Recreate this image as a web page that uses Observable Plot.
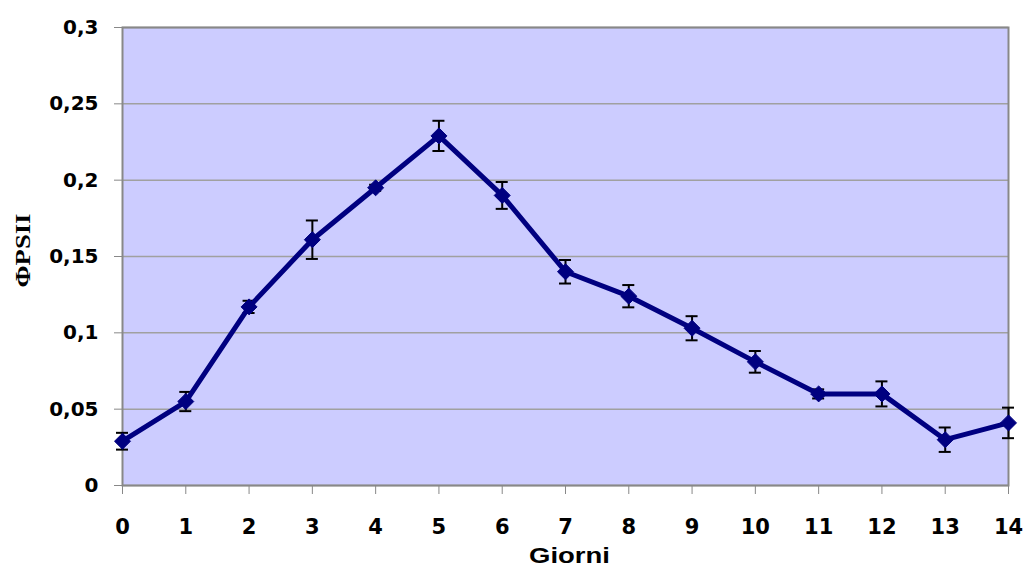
<!DOCTYPE html>
<html>
<head>
<meta charset="utf-8">
<script src="https://cdn.jsdelivr.net/npm/d3@7"></script>
<script src="https://cdn.jsdelivr.net/npm/@observablehq/plot@0.6"></script>
<style>
  html, body { margin: 0; padding: 0; background: #ffffff; }
  #chart svg { display: block; }
</style>
</head>
<body>
<div id="chart"></div>
<script>
// Data
const days = [0, 1, 2, 3, 4, 5, 6, 7, 8, 9, 10, 11, 12, 13, 14];
const phiPSII = [0.029, 0.055, 0.117, 0.161, 0.195, 0.229, 0.190, 0.140, 0.124, 0.103, 0.081, 0.060, 0.060, 0.030, 0.041];
const errors = [0.0055, 0.0063, 0.004, 0.0126, 0.002, 0.0099, 0.0088, 0.0077, 0.0073, 0.0079, 0.0071, 0.003, 0.0082, 0.008, 0.010];
const yTicks = [0, 0.05, 0.1, 0.15, 0.2, 0.25, 0.3];
const xTicks = days;
const xLabel = "Giorni";
const yLabel = "ΦPSII";

const data = days.map((d, i) => ({day: d, v: phiPSII[i], e: errors[i]}));
const capHalf = 0.095; // half-width of error-bar caps, in day units

const fmt = d => String(d).replace(".", ",");

const chart = Plot.plot({
  width: 1027,
  height: 566,
  marginLeft: 122,
  marginRight: 19,
  marginTop: 27,
  marginBottom: 81,
  style: {background: "#ffffff", overflow: "visible", fontFamily: "Liberation Sans"},
  x: {domain: [0, 14], ticks: xTicks, label: null},
  y: {domain: [0, 0.3], ticks: yTicks, label: null},
  marks: [
    Plot.frame({fill: "#ccccff", stroke: "none"}),
    Plot.gridY(yTicks, {stroke: "#a0a0a0", strokeOpacity: 1, strokeWidth: 1.5}),
    Plot.frame({stroke: "#888888", strokeWidth: 2}),
    Plot.axisY(yTicks, {
      tickSize: 8, tickPadding: 16, stroke: "#888888",
      tickFormat: fmt, fontSize: 20, fontWeight: "bold",
      fill: "#000000", label: null, className: "yax"
    }),
    Plot.axisX(xTicks, {
      tickSize: 9, tickPadding: 25, stroke: "#888888",
      tickFormat: d => String(d), fontSize: 21, fontWeight: "bold",
      fill: "#000000", label: null, className: "xax"
    }),
    Plot.ruleX(data, {x: "day", y1: d => d.v - d.e, y2: d => d.v + d.e, stroke: "#000000", strokeWidth: 2}),
    Plot.ruleY(data, {y: d => d.v - d.e, x1: d => d.day - capHalf, x2: d => d.day + capHalf, stroke: "#000000", strokeWidth: 2}),
    Plot.ruleY(data, {y: d => d.v + d.e, x1: d => d.day - capHalf, x2: d => d.day + capHalf, stroke: "#000000", strokeWidth: 2}),
    Plot.line(data, {x: "day", y: "v", stroke: "#000080", strokeWidth: 5, strokeLinejoin: "round"}),
    Plot.dot(data, {x: "day", y: "v", symbol: "diamond2", r: 7.2, fill: "#000080", stroke: "#000080", strokeWidth: 1}),
    Plot.text([xLabel], {
      frameAnchor: "bottom", dx: -36.5, dy: 70, lineAnchor: "middle", textAnchor: "start",
      fontSize: 22, fontWeight: "bold", fill: "#000000",
      className: "xlab"
    }),
    Plot.text([yLabel], {
      frameAnchor: "left", dx: -99, dy: 31, rotate: -90, lineAnchor: "middle", textAnchor: "start",
      fontSize: 20, fontWeight: "bold", fill: "#000000",
      className: "ylab"
    })
  ]
});

document.getElementById("chart").appendChild(chart);

const svg = d3.select(chart);
// fonts as in the reference
svg.selectAll("g.yax text").style("font-family", "'DejaVu Sans'");
svg.selectAll("g.xax text").style("font-family", "'DejaVu Sans'");
svg.selectAll("g.xlab text").style("font-family", "'Liberation Sans'")
  .attr("textLength", 81).attr("lengthAdjust", "spacingAndGlyphs");
svg.selectAll("g.ylab text").style("font-family", "'Liberation Serif'")
  .attr("textLength", 74).attr("lengthAdjust", "spacingAndGlyphs");
</script>
</body>
</html>
